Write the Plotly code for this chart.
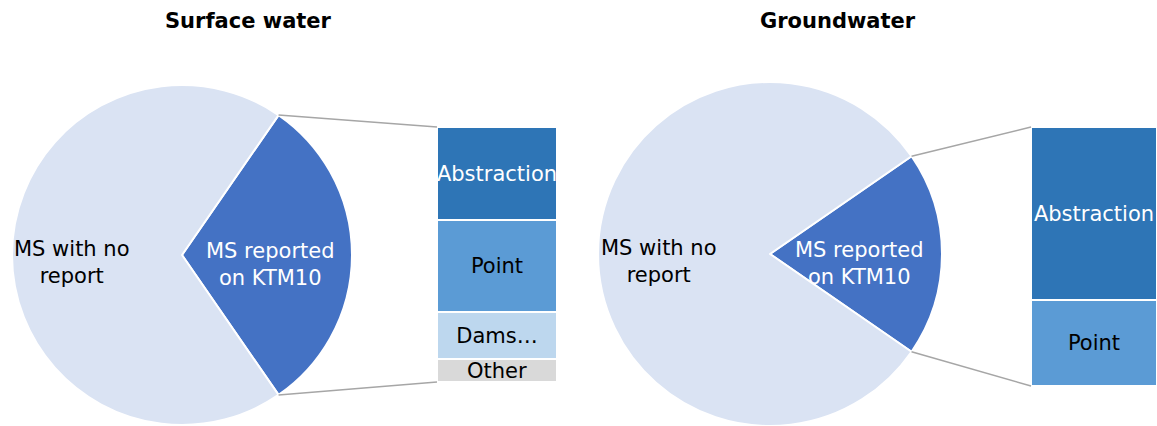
import math
import plotly.graph_objects as go

# pie data: number of member states
pie_labels = ["MS reported on KTM10", "MS with no report"]
sw_pie = [8, 18]
gw_pie = [5, 21]

# breakdown bars (top to bottom)
sw_cats = ["Abstraction", "Point", "Dams…", "Other"]
sw_vals = [4, 4, 2, 1]
gw_cats = ["Abstraction", "Point"]
gw_vals = [2, 1]

titles = ["Surface water", "Groundwater"]

W, H = 1157, 426
FONT = "DejaVu Sans"
pie_colors = ["#4472c4", "#dae3f3"]
bar_colors = {"Abstraction": "#2e75b6", "Point": "#5b9bd5", "Dams…": "#bdd7ee", "Other": "#d9d9d9"}
text_colors = {"Abstraction": "white", "Point": "black", "Dams…": "black", "Other": "black"}

# layout geometry in pixels
pies = [dict(cx=182, cy=255, r=170), dict(cx=770, cy=254, r=172)]
bars = [dict(x0=437, x1=557, y0=127, y1=382), dict(x0=1031, x1=1157, y0=127, y1=386)]


def px(x):
    return x / W


def py(y):
    return min(1, max(0, 1 - y / H))


fig = go.Figure()
shapes = []
annotations = []

for i, (vals, cats, bvals) in enumerate([(sw_pie, sw_cats, sw_vals), (gw_pie, gw_cats, gw_vals)]):
    p = pies[i]
    b = bars[i]
    angle = 360 * vals[0] / sum(vals)
    fig.add_trace(go.Pie(
        labels=pie_labels, values=vals, sort=False, direction="clockwise",
        rotation=90 - angle / 2,
        marker=dict(colors=pie_colors, line=dict(color="white", width=2)),
        textinfo="none", hoverinfo="label+value",
        domain=dict(x=[px(p["cx"] - p["r"]), px(p["cx"] + p["r"])],
                    y=[py(p["cy"] + p["r"]), py(p["cy"] - p["r"])]),
        showlegend=False,
    ))

    xa = "x" if i == 0 else "x2"
    ya = "y" if i == 0 else "y2"
    # stack bottom-up so the first category ends on top
    for c, v in reversed(list(zip(cats, bvals))):
        fig.add_trace(go.Bar(
            x=[0], y=[v], name=c, width=1,
            marker=dict(color=bar_colors[c], line=dict(color="white", width=2)),
            text=[c], textposition="inside", insidetextanchor="middle",
            textangle=0, constraintext="none", cliponaxis=True,
            textfont=dict(family=FONT, size=21, color=text_colors[c]),
            xaxis=xa, yaxis=ya, showlegend=False,
        ))

    # connector lines from slice edge to bar corners
    half = math.radians(angle / 2)
    ex = p["cx"] + p["r"] * math.cos(half)
    ey_top = p["cy"] - p["r"] * math.sin(half)
    ey_bot = p["cy"] + p["r"] * math.sin(half)
    for ey, by in [(ey_top, b["y0"]), (ey_bot, b["y1"])]:
        shapes.append(dict(type="line", xref="paper", yref="paper",
                           x0=px(ex), y0=py(ey), x1=px(b["x0"]), y1=py(by),
                           line=dict(color="#a6a6a6", width=1.5)))

    # slice labels
    annotations.append(dict(x=px(p["cx"] - 0.645 * p["r"]), y=py(p["cy"] + 7), xref="paper", yref="paper",
                            xanchor="center", yanchor="middle",
                            text="MS with no<br>report", showarrow=False,
                            font=dict(family=FONT, size=21, color="black")))
    annotations.append(dict(x=px(p["cx"] + 0.52 * p["r"]), y=py(p["cy"] + 9), xref="paper", yref="paper",
                            xanchor="center", yanchor="middle",
                            text="MS reported<br>on KTM10", showarrow=False,
                            font=dict(family=FONT, size=21, color="white")))
    annotations.append(dict(x=px(p["cx"] + (67 if i == 0 else 68)), y=py(21), xref="paper", yref="paper",
                            xanchor="center", yanchor="middle",
                            text="<b>" + titles[i] + "</b>", showarrow=False,
                            font=dict(family=FONT, size=21, color="black")))

axis_common = dict(visible=False, fixedrange=True)
fig.update_layout(
    width=W, height=H,
    margin=dict(l=0, r=0, t=0, b=0),
    paper_bgcolor="white", plot_bgcolor="white",
    barmode="stack", bargap=0,
    xaxis=dict(domain=[px(bars[0]["x0"]), px(bars[0]["x1"])], range=[-0.5, 0.5], **axis_common),
    yaxis=dict(domain=[py(bars[0]["y1"]), py(bars[0]["y0"])], range=[0, sum(sw_vals)], **axis_common),
    xaxis2=dict(domain=[px(bars[1]["x0"]), px(bars[1]["x1"])], range=[-0.5, 0.5], anchor="y2", **axis_common),
    yaxis2=dict(domain=[py(bars[1]["y1"]), py(bars[1]["y0"])], range=[0, sum(gw_vals)], anchor="x2", **axis_common),
    shapes=shapes,
    annotations=annotations,
    font=dict(family=FONT),
)

fig.write_html("out.html", config={"displayModeBar": False},
               post_script="document.body.style.margin='0';")
